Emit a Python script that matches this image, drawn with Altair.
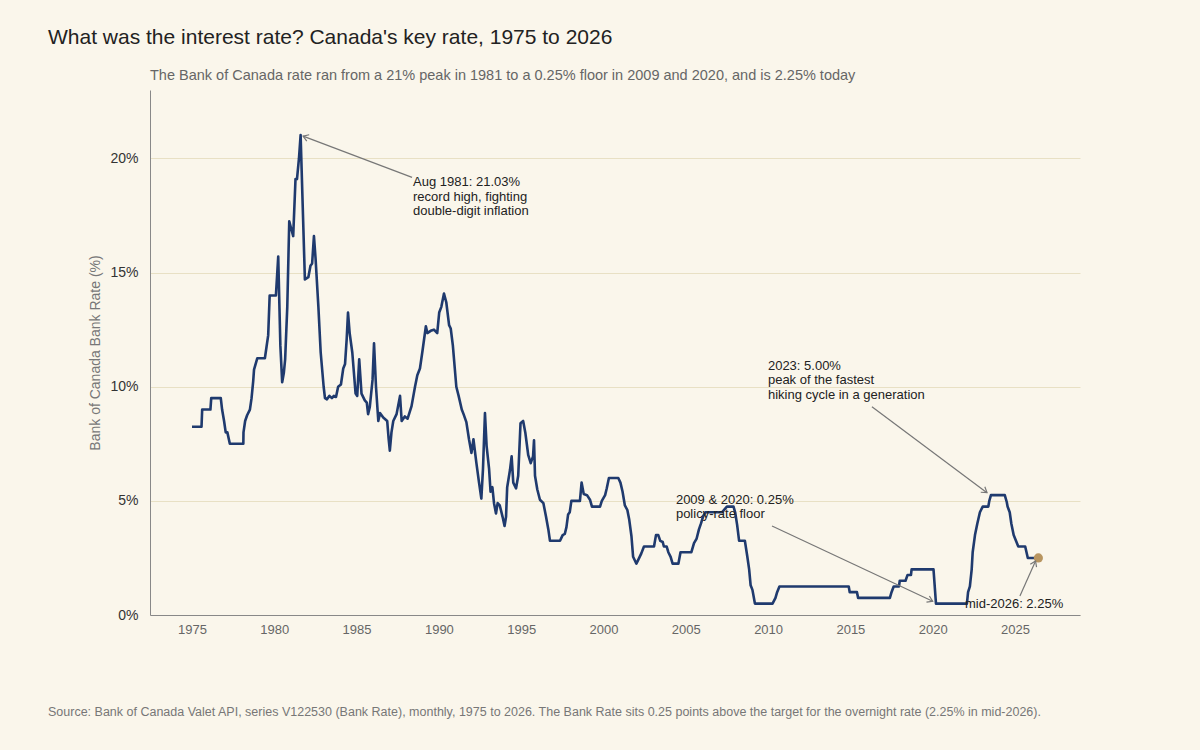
import math
import altair as alt
import pandas as pd

# ---- data: Bank of Canada Bank Rate (%), decimal years ----
years = [
    1975.00, 1975.58, 1975.62, 1976.12, 1976.17, 1976.75, 1976.83, 1976.95, 1977.05, 1977.15,
    1977.30, 1978.12, 1978.13, 1978.23, 1978.35, 1978.52, 1978.62, 1978.72, 1978.77, 1978.97,
    1979.43, 1979.53, 1979.63, 1979.72, 1980.10, 1980.24, 1980.37, 1980.48, 1980.58, 1980.66,
    1980.79, 1980.91, 1981.00, 1981.15, 1981.29, 1981.38, 1981.50, 1981.60, 1981.86, 1982.07,
    1982.20, 1982.30, 1982.41, 1982.51, 1982.68, 1982.82, 1983.00, 1983.08, 1983.20, 1983.35,
    1983.50, 1983.62, 1983.75, 1983.88, 1984.05, 1984.19, 1984.30, 1984.40, 1984.48, 1984.58,
    1984.74, 1984.94, 1985.04, 1985.16, 1985.30, 1985.50, 1985.62, 1985.70, 1985.80, 1985.97,
    1986.06, 1986.18, 1986.32, 1986.42, 1986.62, 1986.86, 1986.95, 1987.02, 1987.12, 1987.23,
    1987.43, 1987.64, 1987.74, 1987.93, 1988.10, 1988.34, 1988.55, 1988.69, 1988.85, 1989.01,
    1989.21, 1989.30, 1989.50, 1989.70, 1989.90, 1990.02, 1990.15, 1990.31, 1990.45, 1990.62,
    1990.72, 1990.85, 1991.06, 1991.20, 1991.39, 1991.50, 1991.67, 1991.83, 1991.98, 1992.10,
    1992.28, 1992.44, 1992.58, 1992.68, 1992.80, 1992.90, 1993.05, 1993.14, 1993.25, 1993.35,
    1993.47, 1993.57, 1993.70, 1993.87, 1993.99, 1994.08, 1994.15, 1994.32, 1994.42, 1994.52,
    1994.69, 1994.82, 1994.96, 1995.12, 1995.25, 1995.43, 1995.58, 1995.72, 1995.78, 1995.84,
    1995.98, 1996.14, 1996.35, 1996.51, 1996.65, 1996.75, 1997.36, 1997.52, 1997.65, 1997.75,
    1997.85, 1997.95, 1998.05, 1998.57, 1998.67, 1998.80, 1999.00, 1999.18, 1999.30, 1999.79,
    1999.90, 2000.10, 2000.20, 2000.33, 2000.90, 2001.03, 2001.16, 2001.30, 2001.45, 2001.56,
    2001.70, 2001.80, 2001.90, 2002.00, 2002.17, 2002.30, 2002.46, 2003.07, 2003.19, 2003.33,
    2003.45, 2003.60, 2003.67, 2003.84, 2003.94, 2004.08, 2004.20, 2004.55, 2004.68, 2005.34,
    2005.50, 2005.66, 2005.80, 2005.92, 2006.07, 2006.20, 2007.20, 2007.50, 2007.90, 2008.00,
    2008.12, 2008.24, 2008.59, 2008.74, 2008.85, 2008.94, 2009.05, 2009.20, 2010.27, 2010.45,
    2010.55, 2010.69, 2014.90, 2014.96, 2015.40, 2015.47, 2017.40, 2017.50, 2017.63, 2017.95,
    2018.00, 2018.35, 2018.47, 2018.68, 2018.72, 2020.05, 2020.20, 2022.08, 2022.15, 2022.26,
    2022.37, 2022.43, 2022.57, 2022.71, 2022.87, 2023.04, 2023.38, 2023.44, 2023.54, 2024.38,
    2024.50, 2024.55, 2024.68, 2024.78, 2024.92, 2025.06, 2025.20, 2025.62, 2025.70, 2025.78,
    2026.42,
]
rates = [
    8.25, 8.25, 9.0, 9.0, 9.5, 9.5, 9.0, 8.5, 8.0, 8.0,
    7.5, 7.5, 8.0, 8.5, 8.75, 9.0, 9.5, 10.25, 10.75, 11.25,
    11.25, 11.75, 12.25, 14.0, 14.0, 15.7, 11.8, 10.2, 10.6, 11.2,
    13.5, 17.25, 17.0, 16.6, 19.1, 19.1, 20.0, 21.03, 14.7, 14.8,
    15.3, 15.4, 16.6, 15.6, 13.5, 11.5, 10.0, 9.5, 9.45, 9.6,
    9.5, 9.6, 9.55, 10.0, 10.1, 10.8, 11.0, 12.1, 13.25, 12.35,
    11.5, 9.7, 9.6, 11.2, 9.7, 9.4, 9.3, 8.8, 9.1, 10.3,
    11.9, 10.0, 8.5, 8.85, 8.65, 8.5, 7.7, 7.2, 8.0, 8.5,
    8.8, 9.6, 8.5, 8.7, 8.6, 9.15, 10.0, 10.5, 10.8, 11.6,
    12.65, 12.35, 12.45, 12.5, 12.35, 13.25, 13.5, 14.08, 13.7, 12.7,
    12.55, 11.8, 10.0, 9.6, 9.0, 8.8, 8.45, 7.7, 7.1, 7.7,
    6.65, 5.8, 5.1, 6.4, 8.85, 7.4, 6.4, 5.4, 5.6, 4.9,
    4.45, 4.9, 4.8, 4.3, 3.9, 4.3, 5.6, 6.35, 6.95, 5.8,
    5.55, 6.1, 8.4, 8.5, 8.0, 7.0, 6.65, 6.95, 7.65, 6.1,
    5.5, 5.05, 4.9, 4.3, 3.75, 3.25, 3.25, 3.5, 3.55, 3.85,
    4.4, 4.5, 5.0, 5.0, 5.8, 5.3, 5.25, 5.05, 4.75, 4.75,
    5.0, 5.25, 5.55, 6.0, 6.0, 5.8, 5.4, 4.8, 4.6, 4.2,
    3.45, 2.55, 2.4, 2.25, 2.5, 2.7, 3.0, 3.0, 3.5, 3.5,
    3.25, 3.2, 3.0, 3.0, 2.75, 2.55, 2.25, 2.25, 2.75, 2.75,
    3.15, 3.35, 3.75, 4.0, 4.35, 4.5, 4.5, 4.75, 4.75, 4.5,
    3.95, 3.25, 3.25, 2.55, 2.0, 1.3, 1.1, 0.5, 0.5, 0.75,
    1.0, 1.25, 1.25, 1.0, 1.0, 0.75, 0.75, 1.0, 1.25, 1.25,
    1.5, 1.5, 1.75, 1.75, 2.0, 2.0, 0.5, 0.5, 1.0, 1.25,
    2.0, 2.75, 3.5, 4.0, 4.5, 4.75, 4.75, 5.0, 5.25, 5.25,
    4.95, 4.75, 4.5, 4.0, 3.5, 3.25, 3.0, 3.0, 2.75, 2.5,
    2.5,
]

latest_year = [2026.42]
latest_rate = [2.5]

x_ticks = [1975, 1980, 1985, 1990, 1995, 2000, 2005, 2010, 2015, 2020, 2025]
y_ticks = [0, 5, 10, 15, 20]

title_text = "What was the interest rate? Canada's key rate, 1975 to 2026"
subtitle_text = ("The Bank of Canada rate ran from a 21% peak in 1981 to a 0.25% floor "
                 "in 2009 and 2020, and is 2.25% today")
source_text = ("Source: Bank of Canada Valet API, series V122530 (Bank Rate), monthly, 1975 to 2026. "
               "The Bank Rate sits 0.25 points above the target for the overnight rate (2.25% in mid-2026).")
y_title = "Bank of Canada Bank Rate (%)"

# annotations: text lines, text anchor (data units), arrow start/end (data units)
ann_lines = [
    ["Aug 1981: 21.03%", "record high, fighting", "double-digit inflation"],
    ["2023: 5.00%", "peak of the fastest", "hiking cycle in a generation"],
    ["2009 & 2020: 0.25%", "policy-rate floor"],
    ["mid-2026: 2.25%"],
]
ann_text_x = [1988.43, 2009.99, 2004.40, 2021.96]
ann_text_y = [18.95, 10.92, 5.04, 0.48]
arrow_x1 = [1988.37, 2016.31, 2010.24, 2025.30]
arrow_y1 = [19.17, 9.12, 3.90, 0.83]
arrow_x2 = [1981.75, 2023.30, 2020.00, 2026.25]
arrow_y2 = [20.98, 5.36, 0.60, 2.37]

# ---- layout / style ----
W, H = 930, 525
X_DOM = [1972.45, 2028.95]
Y_DOM = [0, 23]
FONT = "Liberation Sans"
BG = "#faf6eb"
LINE_COLOR = "#1f3a6e"
DOT_COLOR = "#b89560"
ARROW_COLOR = "#777777"
LINE_H = 14.5  # px between annotation lines

sx = W / (X_DOM[1] - X_DOM[0])
sy = H / (Y_DOM[1] - Y_DOM[0])

series = pd.DataFrame({"year": years, "rate": rates})
latest = pd.DataFrame({"year": latest_year, "rate": latest_rate})

text_rows = []
for i, lines in enumerate(ann_lines):
    for j, t in enumerate(lines):
        text_rows.append({"x": ann_text_x[i], "y": ann_text_y[i] - j * LINE_H / sy, "t": t})
texts = pd.DataFrame(text_rows)

arrow_rows = []
for i in range(len(arrow_x1)):
    dxp = (arrow_x2[i] - arrow_x1[i]) * sx
    dyp = -(arrow_y2[i] - arrow_y1[i]) * sy
    ang = math.degrees(math.atan2(dyp, dxp)) % 360
    arrow_rows.append({"x1": arrow_x1[i], "y1": arrow_y1[i],
                       "x2": arrow_x2[i], "y2": arrow_y2[i], "angle": ang})
arrows = pd.DataFrame(arrow_rows)

xscale = alt.Scale(domain=X_DOM, nice=False, zero=False)
yscale = alt.Scale(domain=Y_DOM, nice=False, zero=True)

x_axis = alt.Axis(values=x_ticks, format="d", ticks=False, grid=False, labelColor="#666666",
                  labelFontSize=13, labelPadding=8, domainColor="#888888", title=None,
                  labelFont=FONT)
y_axis = alt.Axis(values=y_ticks, labelExpr="datum.value + '%'", ticks=False, grid=True,
                  gridColor="#e8e0c4", gridWidth=1, labelColor="#333333", labelFontSize=14,
                  labelPadding=12, domainColor="#888888", title=y_title, titleColor="#777777",
                  titleFontSize=14, titleFontWeight="normal", titlePadding=7, titleFont=FONT,
                  labelFont=FONT)

line = alt.Chart(series).mark_line(color=LINE_COLOR, strokeWidth=2.6, strokeJoin="round").encode(
    x=alt.X("year:Q", scale=xscale, axis=x_axis),
    y=alt.Y("rate:Q", scale=yscale, axis=y_axis),
)

dot = alt.Chart(latest).mark_circle(color=DOT_COLOR, size=85, opacity=1).encode(
    x=alt.X("year:Q", scale=xscale),
    y=alt.Y("rate:Q", scale=yscale),
)

arrow_lines = alt.Chart(arrows).mark_rule(color=ARROW_COLOR, strokeWidth=1.2).encode(
    x=alt.X("x1:Q", scale=xscale), y=alt.Y("y1:Q", scale=yscale),
    x2="x2:Q", y2="y2:Q",
)

arrow_heads = alt.Chart(arrows).mark_point(
    shape="M -1 -0.65 L 0 0 L -1 0.65", filled=False, stroke=ARROW_COLOR, strokeWidth=1.2,
    size=110, opacity=1,
).encode(
    x=alt.X("x2:Q", scale=xscale), y=alt.Y("y2:Q", scale=yscale),
    angle=alt.Angle("angle:Q", scale=None),
)

ann_text = alt.Chart(texts).mark_text(align="left", baseline="middle", font=FONT,
                                      fontSize=13, color="#222222").encode(
    x=alt.X("x:Q", scale=xscale), y=alt.Y("y:Q", scale=yscale), text="t:N",
)

one = pd.DataFrame({"k": [0]})
title_mark = alt.Chart(one).mark_text(align="left", baseline="middle", font=FONT, fontSize=21,
                                      color="#222222").encode(
    x=alt.value(-102), y=alt.value(-52), text=alt.value(title_text))
subtitle_mark = alt.Chart(one).mark_text(align="left", baseline="middle", font=FONT, fontSize=14.5,
                                         color="#666666").encode(
    x=alt.value(0), y=alt.value(-14), text=alt.value(subtitle_text))
source_mark = alt.Chart(one).mark_text(align="left", baseline="middle", font=FONT, fontSize=12.5,
                                       color="#777777").encode(
    x=alt.value(-102), y=alt.value(622), text=alt.value(source_text))

chart = alt.layer(
    line, dot, arrow_lines, arrow_heads, ann_text, title_mark, subtitle_mark, source_mark
).properties(
    width=W, height=H,
    autosize=alt.AutoSizeParams(type="none"),
    padding={"left": 150, "top": 90, "right": 120, "bottom": 135},
    background=BG,
).configure_view(strokeWidth=0)

chart.save("out.html", embed_options={"renderer": "svg", "actions": False})
